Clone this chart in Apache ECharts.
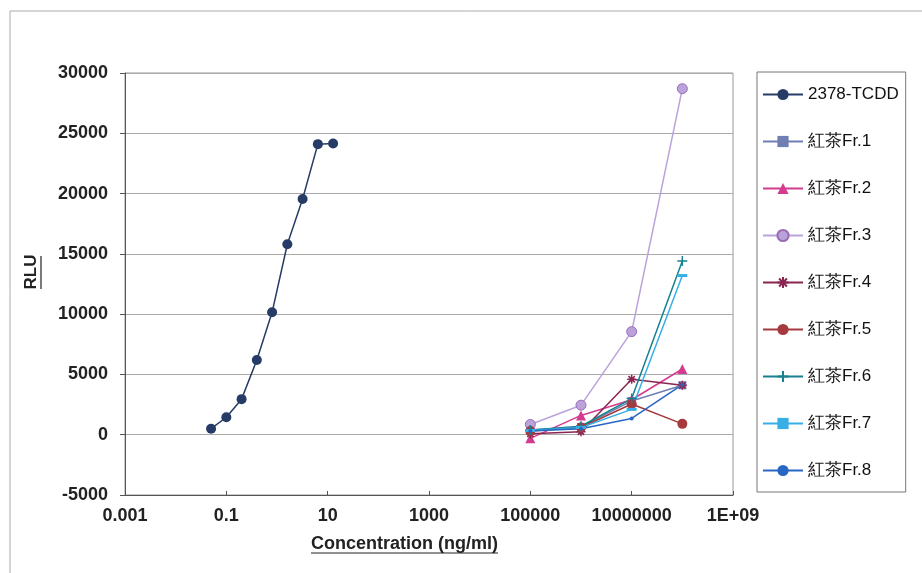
<!DOCTYPE html>
<html>
<head>
<meta charset="utf-8">
<script src="https://cdn.jsdelivr.net/npm/echarts@6/dist/echarts.min.js"></script>
<style>
  html, body { margin: 0; padding: 0; background: #fff; }
  #main { width: 922px; height: 573px; }
</style>
</head>
<body>
<div id="main"></div>
<script>
var myChart = echarts.init(document.getElementById('main'));

// 濃度 (ng/ml)
var tcddConc = [0.05, 0.1, 0.2, 0.4, 0.8, 1.6, 3.2, 6.4, 12.8];
var tcddRlu = [500, 1450, 2950, 6200, 10150, 15800, 19550, 24100, 24150];

var frConc = [100000, 1000000, 10000000, 100000000];
var fr1 = [400, 650, 2800, 4100];
var fr2 = [-300, 1600, 2900, 5450];
var fr3 = [850, 2450, 8550, 28700];
var fr4 = [80, 250, 4600, 4100];
var fr5 = [300, 600, 2550, 900];
var fr6 = [400, 700, 3000, 14400];
var fr7 = [350, 600, 2100, 13200];
var fr8 = [300, 500, 1350, 4150];

var seriesNames = ['2378-TCDD', '紅茶Fr.1', '紅茶Fr.2', '紅茶Fr.3', '紅茶Fr.4', '紅茶Fr.5', '紅茶Fr.6', '紅茶Fr.7', '紅茶Fr.8'];

// x軸の目盛りラベル (log10 の指数ごと)
var xTickExp = [-3, -1, 1, 3, 5, 7, 9];
var xTickLabels = ['0.001', '0.1', '10', '1000', '100000', '10000000', '1E+09'];

function pairs(conc, vals) {
  return conc.map(function (c, i) {
    return [Math.log10(c), vals[i]];
  });
}

var asterisk = 'path://M5,0L5,10M0,5L10,5M1.5,1.5L8.5,8.5M8.5,1.5L1.5,8.5';
var plus = 'path://M5,0L5,10M0,5L10,5';

function line(name, data, color, symbol, size, extra) {
  var s = {
    name: name,
    type: 'line',
    data: data,
    symbol: symbol,
    symbolSize: size,
    showAllSymbol: true,
    lineStyle: { color: color, width: 1.5 },
    itemStyle: { color: color },
    emphasis: { disabled: true },
    z: 3
  };
  if (extra) {
    for (var k in extra) s[k] = extra[k];
  }
  return s;
}

var option = {
  animation: false,
  textStyle: { fontFamily: 'Liberation Sans, Arial, sans-serif' },
  grid: {
    left: 125, right: 189, top: 73, bottom: 78,
    show: true, borderColor: '#999', borderWidth: 1
  },
  legend: {
    orient: 'vertical',
    left: 757, top: 72,
    padding: [14, 7, 13, 5],
    itemWidth: 40, itemHeight: 14, itemGap: 30,
    borderColor: '#777', borderWidth: 1,
    textStyle: { fontSize: 17, color: '#111', fontFamily: 'Liberation Sans, Arial, sans-serif' },
    data: seriesNames
  },
  xAxis: {
    type: 'value',
    min: -3, max: 9, interval: 2,
    axisLine: { onZero: false, lineStyle: { color: '#555' } },
    axisTick: { inside: true, length: 4, lineStyle: { color: '#555' } },
    splitLine: { show: false },
    axisLabel: {
      margin: 12,
      fontSize: 18, fontWeight: 'bold', color: '#222',
      formatter: function (v) {
        var i = xTickExp.indexOf(v);
        return i >= 0 ? xTickLabels[i] : '';
      }
    }
  },
  yAxis: {
    type: 'value',
    min: -5000, max: 30000, interval: 5000,
    axisLine: { show: true, onZero: false, lineStyle: { color: '#555' } },
    axisTick: { show: true, length: 5, lineStyle: { color: '#555' } },
    splitLine: { lineStyle: { color: '#aaa', width: 1 } },
    axisLabel: {
      margin: 17, fontSize: 18, fontWeight: 'bold', color: '#222',
      formatter: function (v) { return String(v); }
    }
  },
  graphic: [
    { type: 'rect', shape: { x: 10, y: 11, width: 940, height: 600 }, style: { fill: 'none', stroke: '#aaa', lineWidth: 1 }, silent: true, z: -1 },
    {
      type: 'text', left: 311, top: 535, silent: true,
      style: { text: 'Concentration (ng/ml)', font: 'bold 18px Liberation Sans, Arial, sans-serif', fill: '#222' }
    },
    { type: 'line', shape: { x1: 311, y1: 553, x2: 498, y2: 553 }, style: { stroke: '#222', lineWidth: 1.2 }, silent: true },
    {
      type: 'text', x: 31, y: 272, rotation: Math.PI / 2, silent: true,
      style: { text: 'RLU', font: 'bold 17px Liberation Sans, Arial, sans-serif', fill: '#222', align: 'center', verticalAlign: 'middle' }
    },
    { type: 'line', shape: { x1: 41, y1: 256, x2: 41, y2: 289 }, style: { stroke: '#222', lineWidth: 1.2 }, silent: true }
  ],
  series: [
    line(seriesNames[0], pairs(tcddConc, tcddRlu), '#263b66', 'circle', 10, { z: 4 }),
    line(seriesNames[1], pairs(frConc, fr1), '#6f7fb3', 'rect', 8),
    line(seriesNames[2], pairs(frConc, fr2), '#d43b8e', 'triangle', 10),
    line(seriesNames[3], pairs(frConc, fr3), '#b9a3da', 'circle', 10, {
      itemStyle: { color: '#b9a3da', borderColor: '#9c6bb8', borderWidth: 1 }
    }),
    line(seriesNames[4], pairs(frConc, fr4), '#8a2450', asterisk, 9, {
      itemStyle: { color: 'none', borderColor: '#8a2450', borderWidth: 1.5 }
    }),
    line(seriesNames[5], pairs(frConc, fr5), '#a53a3e', 'circle', 10),
    line(seriesNames[6], pairs(frConc, fr6), '#16808f', plus, 10, {
      itemStyle: { color: 'none', borderColor: '#16808f', borderWidth: 1.5 }
    }),
    line(seriesNames[7], pairs(frConc, fr7), '#37aee6', 'rect', [10, 3]),
    line(seriesNames[8], pairs(frConc, fr8), '#2866c4', 'circle', 4)
  ]
};

myChart.setOption(option);
</script>
</body>
</html>
